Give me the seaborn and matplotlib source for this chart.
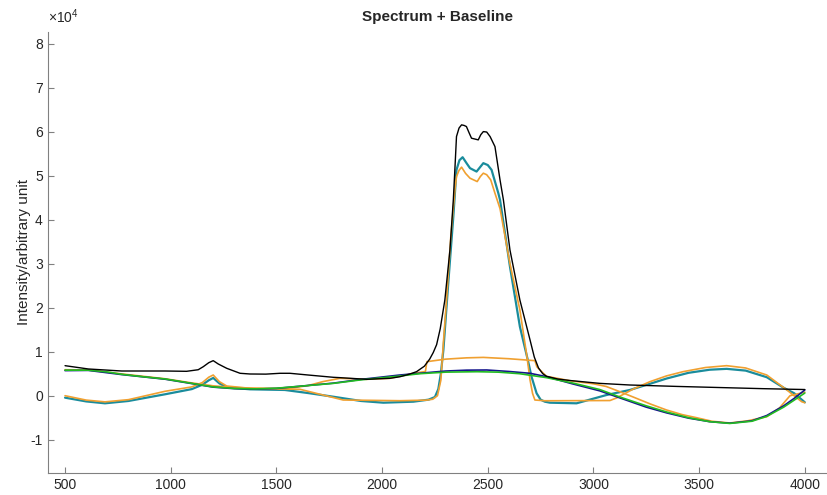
import matplotlib
matplotlib.use("Agg")
import matplotlib.pyplot as plt
import matplotlib.ticker as mticker
import seaborn as sns
import pandas as pd

# spectrum (black)
spec_x = [500, 610, 768, 973, 1075, 1130, 1154, 1180, 1201, 1225, 1265, 1328, 1375, 1450, 1517, 1564,
          1650, 1769, 1801, 1927, 2037, 2084, 2130, 2163, 2200, 2225, 2242, 2258, 2275, 2297, 2321, 2337,
          2345, 2352, 2364, 2376, 2388, 2399, 2411, 2423, 2440, 2455, 2467, 2479, 2495, 2511, 2534, 2558,
          2574, 2605, 2652, 2700, 2720, 2740, 2760, 2778, 2830, 2889, 3030, 3172, 3400, 3600, 3800, 4000]
spec_y = [6820, 6070, 5610, 5610, 5540, 5900, 6590, 7500, 7960, 7200, 6220, 5090, 4930, 4900, 5090, 5090,
          4700, 4180, 4100, 3720, 3950, 4300, 4900, 5460, 6700, 8300, 9800, 11600, 15200, 21750, 33100, 44480,
          52000, 58870, 60800, 61530, 61400, 61150, 59800, 58500, 58300, 58120, 59300, 60000, 59900, 58870, 56600, 49030,
          44480, 33100, 21730, 12660, 8800, 6300, 5000, 4400, 3800, 3450, 2800, 2430, 2100, 1850, 1600, 1400]

# baseline 1 (navy)
navy_x = [500, 610, 768, 973, 1100, 1200, 1300, 1400, 1500, 1600, 1769, 1900, 2084, 2179, 2300, 2400,
          2495, 2600, 2700, 2778, 2900, 3030, 3125, 3250, 3346, 3450, 3550, 3645, 3750, 3820, 3900, 3950, 4000]
navy_y = [5700, 5750, 4800, 3750, 2750, 1950, 1600, 1500, 1650, 2100, 2850, 3700, 4700, 5100, 5600, 5800,
          5840, 5500, 5090, 4320, 2700, 1100, -500, -2600, -3900, -5100, -5900, -6250, -5700, -4500, -2300, -600, 1300]

# baseline 2 (green)
green_x = [500, 610, 700, 768, 870, 973, 1100, 1200, 1300, 1400, 1500, 1600, 1769, 1900, 2084, 2179, 2300,
           2450, 2550, 2650, 2778, 2900, 3030, 3125, 3250, 3346, 3450, 3550, 3645, 3750, 3820, 3900, 3950, 4000]
green_y = [5800, 5800, 5400, 4860, 4300, 3800, 2800, 2000, 1650, 1550, 1700, 2100, 2800, 3600, 4480, 5000, 5350,
           5450, 5350, 5000, 4100, 2900, 1400, -300, -2300, -3700, -5000, -5900, -6300, -5800, -4700, -2600, -1000, 600]

# baseline 3 (orange)
orb_x = [500, 610, 768, 973, 1100, 1200, 1300, 1400, 1500, 1564, 1650, 1720, 1801, 1927, 2037, 2148, 2205,
         2212, 2300, 2400, 2479, 2600, 2723, 2732, 2747, 2778, 2889, 3000, 3060, 3120, 3188, 3270, 3346,
         3420, 3488, 3560, 3645, 3730, 3820, 3880, 3930, 4000]
orb_y = [5900, 5850, 4950, 3850, 2900, 2250, 1850, 1700, 1650, 1700, 2300, 3200, 3950, 3720, 3950, 5090, 5500,
         7730, 8300, 8600, 8700, 8400, 7960, 6590, 5840, 4400, 3400, 2700, 2100, 1000, -300, -1900, -3250,
         -4300, -5000, -5800, -6200, -5700, -4770, -2800, 0, 800]

# corrected spectrum 1 (teal)
teal_x = [500, 600, 689, 800, 973, 1100, 1150, 1180, 1201, 1230, 1265, 1375, 1540, 1650, 1769, 1900, 2006,
          2148, 2220, 2250, 2266, 2278, 2290, 2313, 2337, 2352, 2366, 2381, 2400, 2416, 2447, 2465, 2479,
          2500, 2518, 2550, 2558, 2605, 2652, 2690, 2707, 2731, 2750, 2770, 2794, 2920, 3062, 3172, 3267,
          3346, 3450, 3550, 3630, 3720, 3820, 3900, 3950, 4000]
teal_y = [-450, -1300, -1730, -1200, 320, 1500, 2500, 3500, 4030, 2800, 1900, 1450, 1300, 600, -230, -1200, -1590,
          -1360, -900, -300, 1500, 5000, 10390, 25550, 40690, 51300, 53500, 54180, 52800, 51690, 50920, 52000, 52830,
          52400, 51300, 46000, 44480, 29320, 15680, 8000, 4320, 550, -900, -1360, -1590, -1730, 160, 1300, 2700,
          3900, 5200, 5900, 6100, 5700, 4200, 1800, 550, -1500]

# corrected spectrum 2 (orange)
orc_x = [500, 600, 689, 800, 973, 1100, 1150, 1180, 1201, 1230, 1265, 1375, 1500, 1612, 1700, 1816, 2084,
         2211, 2240, 2262, 2278, 2290, 2305, 2325, 2345, 2352, 2364, 2376, 2395, 2416, 2450, 2465, 2479,
         2495, 2514, 2534, 2558, 2605, 2652, 2685, 2700, 2712, 2723, 2770, 3078, 3110, 3188, 3267, 3346,
         3424, 3530, 3630, 3720, 3820, 3915, 3985, 4000]
orc_y = [0, -1000, -1400, -900, 1000, 2000, 3000, 4200, 4700, 3200, 2200, 1680, 1550, 1450, 400, -980, -1140,
         -1000, -800, 0, 3500, 12000, 21750, 36000, 47000, 49780, 51200, 51920, 50500, 49410, 48650, 49800, 50550,
         50200, 49030, 46000, 42500, 30000, 19460, 9000, 3570, 500, -980, -1150, -1100, -500, 1500, 3180, 4500,
         5460, 6400, 6820, 6300, 4700, 1300, -1360, -1600]

sns.set_style("ticks")
plt.rcParams['font.family'] = ['Liberation Sans', 'DejaVu Sans']
plt.rcParams['mathtext.default'] = 'regular'
plt.rcParams['axes.unicode_minus'] = False

fig = plt.figure(figsize=(8.27, 4.95), dpi=100)
ax = fig.add_axes([0.0577, 0.045, 0.9423, 0.891])

lw = 1.2
sns.lineplot(x=teal_x, y=teal_y, color='#1a8c9c', linewidth=1.6, ax=ax)
sns.lineplot(x=orc_x, y=orc_y, color='#f0a030', linewidth=lw, ax=ax)
sns.lineplot(x=orb_x, y=orb_y, color='#f0a030', linewidth=lw, ax=ax)
sns.lineplot(x=navy_x, y=navy_y, color='#14148c', linewidth=lw, ax=ax)
sns.lineplot(x=green_x, y=green_y, color='#22bb22', linewidth=lw, ax=ax)
sns.lineplot(x=spec_x, y=spec_y, color='black', linewidth=1.0, ax=ax)

ax.set_xlim(418, 4105)
ax.set_ylim(-17500, 82700)
ax.set_xticks([500, 1000, 1500, 2000, 2500, 3000, 3500, 4000])
ax.set_yticks([-10000, 0, 10000, 20000, 30000, 40000, 50000, 60000, 70000, 80000])
# tick labels in units of 10^4, with the exponent shown above the axis like MATLAB
ax.yaxis.set_major_formatter(mticker.FuncFormatter(lambda v, p: '%g' % (v / 1e4)))
ax.text(0.0, 1.012, r'$\times10^{4}$', transform=ax.transAxes, ha='left', va='bottom',
        fontsize=10, color='#262626')

sns.despine(ax=ax)
for s in ['left', 'bottom']:
    ax.spines[s].set_color('#808080')
    ax.spines[s].set_linewidth(0.8)
ax.tick_params(direction='in', length=4, width=0.8, color='#808080', labelcolor='#262626', labelsize=10)

ax.set_title('Spectrum + Baseline', fontsize=11, fontweight='bold', pad=8)
ax.set_ylabel('Intensity/arbitrary unit', fontsize=11, color='#262626', labelpad=0)
ax.set_xlabel('')

fig.savefig('out.png', dpi=100)
